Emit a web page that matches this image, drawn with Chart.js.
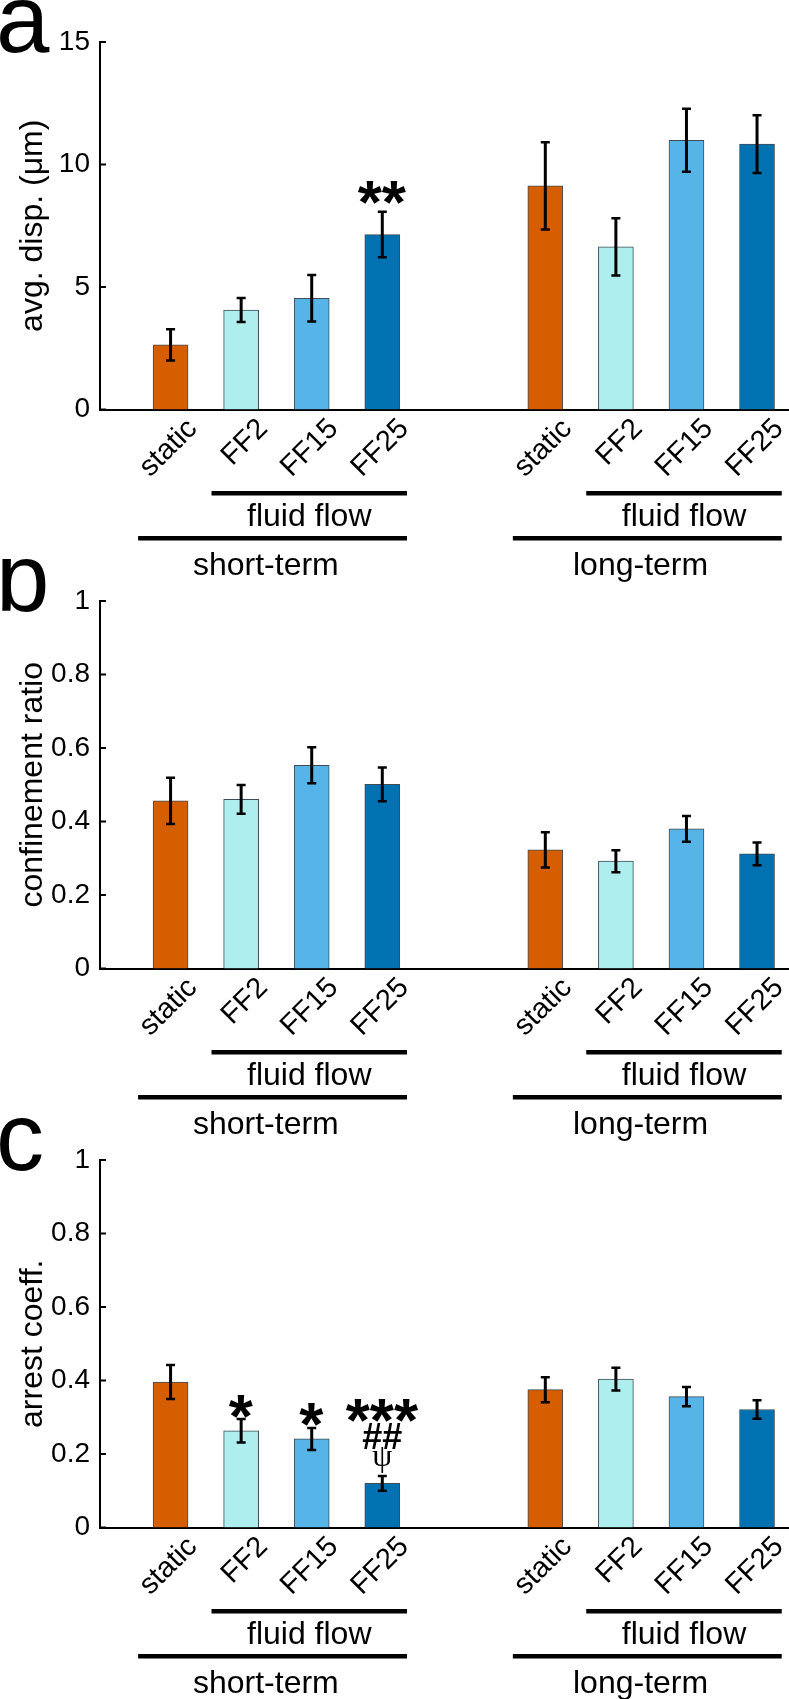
<!DOCTYPE html>
<html><head><meta charset="utf-8">
<script src="https://cdn.jsdelivr.net/npm/chart.js@4.4.1/dist/chart.umd.min.js"></script>
<style>
html,body{margin:0;padding:0;background:#fff;width:789px;height:1699px;overflow:hidden;position:relative}
canvas{position:absolute;left:0}
</style></head><body>
<canvas id="ca" width="789" height="600" style="top:0px"></canvas>
<canvas id="cb" width="789" height="600" style="top:559px"></canvas>
<canvas id="cc" width="789" height="581" style="top:1118px"></canvas>
<script>
// ---- data ----
const categories = ['static','FF2','FF15','FF25','static','FF2','FF15','FF25'];
const barColors  = ['#D55E00','#AFEEEE','#56B4E9','#0072B2'];
const dispMean   = [2.64, 4.06, 4.54, 7.14, 9.13, 6.64, 10.99, 10.83];
const dispErr    = [0.64, 0.49, 0.95, 0.93, 1.78, 1.17, 1.29, 1.18];
const confMean   = [0.456, 0.460, 0.553, 0.501, 0.323, 0.292, 0.380, 0.312];
const confErr    = [0.063, 0.039, 0.049, 0.046, 0.048, 0.030, 0.035, 0.031];
const arrestMean = [0.396, 0.263, 0.241, 0.120, 0.375, 0.404, 0.356, 0.321];
const arrestErr  = [0.046, 0.032, 0.030, 0.020, 0.034, 0.031, 0.026, 0.025];
const dispTicks  = [0, 5, 10, 15];
const ratioTicks = [0, 0.2, 0.4, 0.6, 0.8, 1];
const dispMarks   = [{bar:3, value:8.84, text:'**'}];
const confMarks   = [];
const arrestMarks = [{bar:1, value:0.329, text:'*'}, {bar:2, value:0.307, text:'*'},
                     {bar:3, value:0.319, text:'***'}, {bar:3, value:0.25, text:'##'},
                     {bar:3, value:0.183, text:'ψ'}];
const groupLabels = ['short-term', 'long-term'];
const subLabel = 'fluid flow';

// ---- layout ----
const FONT = "'Liberation Sans', Arial, sans-serif";
const GROUP_GAP = 2.31;
const xPos = categories.map((c, i) => i < 4 ? i + 1 : i + GROUP_GAP);
const X_MAX = 9.763;
const AXIS_BOTTOM = 409.5;
const markFonts = {'*': "bold 62px " + FONT, '#': "bold 36px " + FONT, 'ψ': "32px 'Liberation Serif', serif"};

function drawCentered(ctx, text, xc, yc) {
  const m = ctx.measureText(text);
  const L = m.actualBoundingBoxLeft, R = m.actualBoundingBoxRight;
  const A = m.actualBoundingBoxAscent, D = m.actualBoundingBoxDescent;
  ctx.textAlign = 'left';
  ctx.textBaseline = 'alphabetic';
  ctx.fillText(text, xc - (R - L) / 2, yc + (A - D) / 2);
}

function makePanel(id, letter, yTitle, means, errs, yTicks, yMax, marks) {
  const el = document.getElementById(id);
  const H = el.height;
  const extras = {
    id: 'extras',
    afterDatasetsDraw(chart) {
      const ctx = chart.ctx, y = chart.scales.y;
      const meta = chart.getDatasetMeta(0);
      ctx.save();
      ctx.strokeStyle = '#000';
      ctx.lineCap = 'butt';
      meta.data.forEach((bar, i) => {
        const yt = y.getPixelForValue(means[i] + errs[i]);
        const yb = y.getPixelForValue(means[i] - errs[i]);
        ctx.lineWidth = 3;
        ctx.beginPath(); ctx.moveTo(bar.x, yt); ctx.lineTo(bar.x, yb); ctx.stroke();
        ctx.lineWidth = 2.5;
        ctx.beginPath();
        ctx.moveTo(bar.x - 4.5, yt); ctx.lineTo(bar.x + 4.5, yt);
        ctx.moveTo(bar.x - 4.5, yb); ctx.lineTo(bar.x + 4.5, yb);
        ctx.stroke();
      });
      ctx.fillStyle = '#000';
      marks.forEach(mk => {
        ctx.font = markFonts[mk.text[0]];
        drawCentered(ctx, mk.text, meta.data[mk.bar].x, y.getPixelForValue(mk.value));
      });
      ctx.restore();
    },
    afterDraw(chart) {
      const ctx = chart.ctx, x = chart.scales.x, y = chart.scales.y;
      const ca = chart.chartArea;
      const b = ca.bottom;
      ctx.save();
      ctx.strokeStyle = '#000';
      ctx.fillStyle = '#000';
      // inward y ticks
      ctx.lineWidth = 2;
      y.ticks.forEach(t => {
        const py = y.getPixelForValue(t.value);
        ctx.beginPath(); ctx.moveTo(ca.left, py); ctx.lineTo(ca.left + 6, py); ctx.stroke();
      });
      // group brackets
      ctx.lineWidth = 4.5;
      ctx.lineCap = 'butt';
      groupLabels.forEach((g, gi) => {
        const f = gi * 4;
        const fx0 = x.getPixelForValue(xPos[f + 1] - 0.42);
        const fx1 = x.getPixelForValue(xPos[f + 3] + 0.35);
        const gx0 = x.getPixelForValue(xPos[f] - 0.46);
        ctx.beginPath(); ctx.moveTo(fx0, b + 83.8); ctx.lineTo(fx1, b + 83.8); ctx.stroke();
        ctx.beginPath(); ctx.moveTo(gx0, b + 128.8); ctx.lineTo(fx1, b + 128.8); ctx.stroke();
        ctx.font = '32px ' + FONT;
        ctx.textAlign = 'center';
        ctx.textBaseline = 'alphabetic';
        ctx.fillText(subLabel, (fx0 + fx1) / 2, b + 116.2);
        const gc = x.getPixelForValue((xPos[f] + xPos[f + 3]) / 2 - 0.15);
        ctx.fillText(g, gc, b + 165.5);
      });
      // panel letter
      ctx.font = '96px ' + FONT;
      ctx.textAlign = 'left';
      ctx.fillText(letter, -4, 52);
      ctx.restore();
    }
  };
  return new Chart(el, {
    type: 'bar',
    data: {
      datasets: [{
        data: xPos.map((v, i) => ({x: v, y: means[i]})),
        backgroundColor: categories.map((c, i) => barColors[i % 4]),
        borderColor: 'rgba(30,45,52,0.85)',
        borderWidth: 1,
        barThickness: 35,
        borderSkipped: 'start'
      }]
    },
    options: {
      responsive: false, animation: false, devicePixelRatio: 1,
      layout: {padding: {top: 42, left: 0, right: 0, bottom: 0}},
      plugins: {legend: {display: false}, tooltip: {enabled: false}},
      scales: {
        x: {
          type: 'linear', min: 0, max: X_MAX, offset: false, z: 1,
          grid: {display: false, drawTicks: false, offset: false},
          border: {display: true, color: '#000', width: 2},
          afterBuildTicks: a => { a.ticks = xPos.map(v => ({value: v})); },
          afterFit: s => { s.height = H - AXIS_BOTTOM; s.paddingLeft = 0; s.paddingRight = 0; },
          ticks: {
            autoSkip: false, minRotation: 45, maxRotation: 45, padding: 2.5, labelOffset: 22, color: '#000',
            font: {family: FONT, size: 29},
            callback: (v, i) => categories[i]
          }
        },
        y: {
          type: 'linear', min: 0, max: yMax, z: 1,
          grid: {display: false, drawTicks: false},
          border: {display: true, color: '#000', width: 2},
          afterBuildTicks: a => { a.ticks = yTicks.map(v => ({value: v})); },
          afterFit: s => { s.width = 100; s.paddingTop = 0; s.paddingBottom = 0; },
          ticks: {padding: 10, color: '#000', font: {family: FONT, size: 28}, callback: v => String(v)},
          title: {display: true, text: yTitle, color: '#000', font: {family: FONT, size: 32}, padding: {top: 14, bottom: 0}}
        }
      }
    },
    plugins: [extras]
  });
}

makePanel('ca', 'a', 'avg. disp. (μm)', dispMean, dispErr, dispTicks, 15, dispMarks);
makePanel('cb', 'b', 'confinement ratio', confMean, confErr, ratioTicks, 1, confMarks);
makePanel('cc', 'c', 'arrest coeff.', arrestMean, arrestErr, ratioTicks, 1, arrestMarks);
</script>
</body></html>
